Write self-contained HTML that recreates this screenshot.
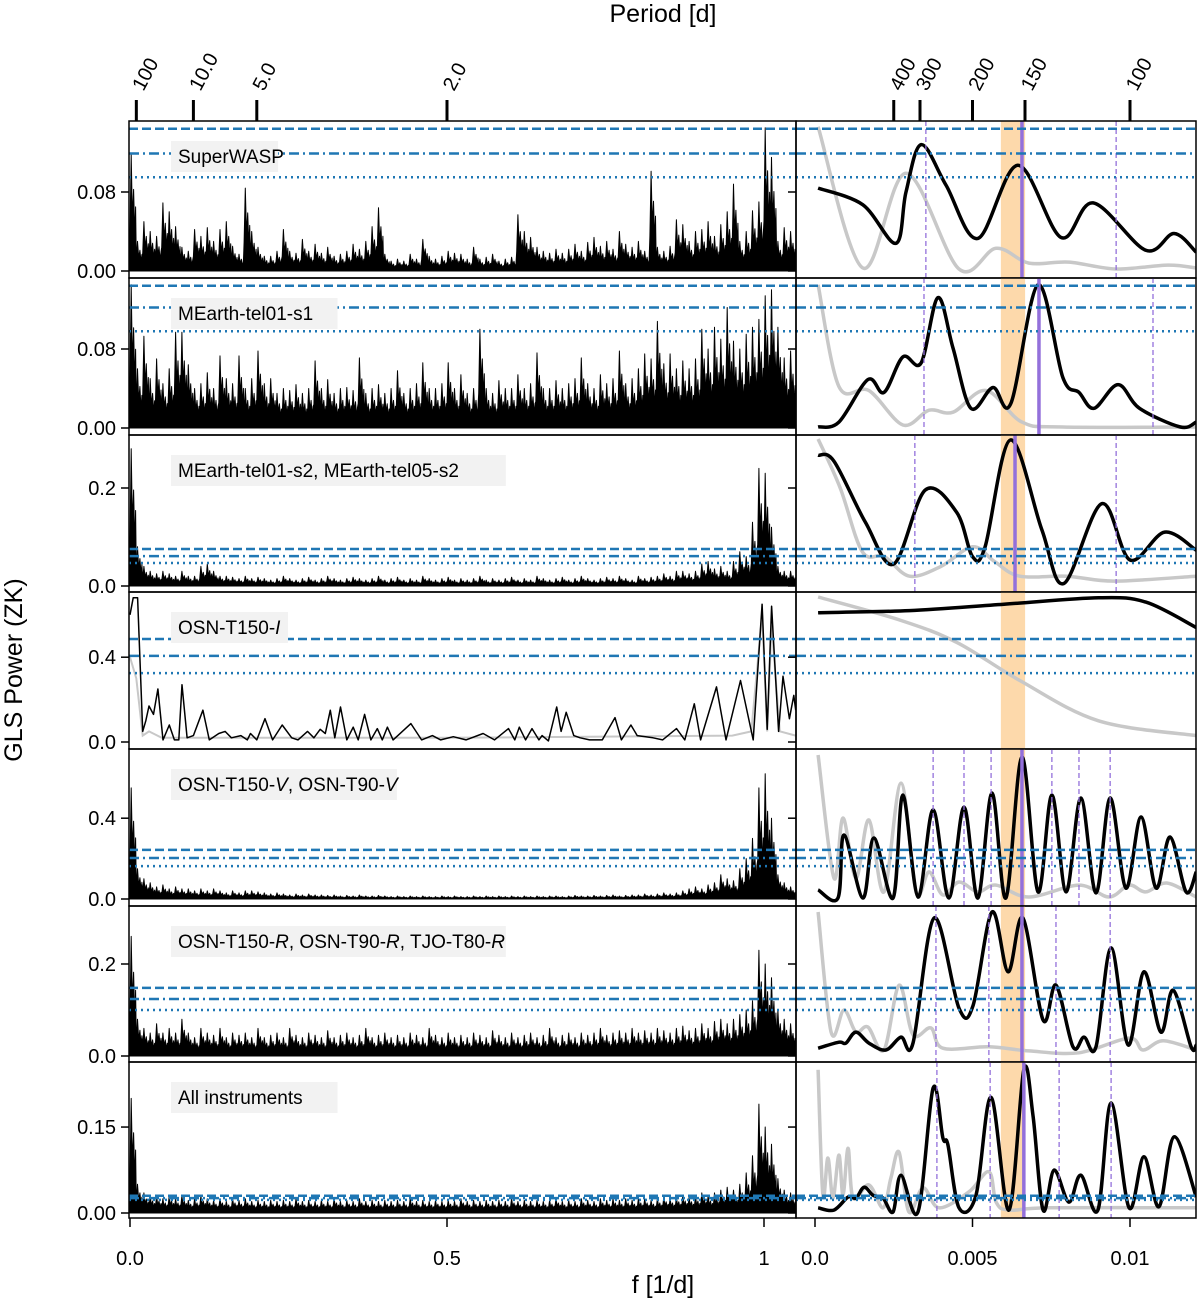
<!DOCTYPE html>
<html><head><meta charset="utf-8">
<style>
html,body{margin:0;padding:0;background:#fff;}
svg text{font-family:"Liberation Sans","DejaVu Sans",sans-serif;fill:#000;}
</style></head>
<body>
<svg id="chart" width="1200" height="1300" viewBox="0 0 1200 1300" xmlns="http://www.w3.org/2000/svg">
<text x="663" y="22" font-size="25" text-anchor="middle">Period [d]</text>
<text x="663" y="1293" font-size="25" text-anchor="middle">f [1/d]</text>
<text x="22" y="670" font-size="25" text-anchor="middle" transform="rotate(-90 22 670)">GLS Power (ZK)</text>
</svg>
<script>
// ---------- data ----------
const panelNames = ["SuperWASP","MEarth-tel01-s1","MEarth-tel01-s2, MEarth-tel05-s2","OSN-T150-I","OSN-T150-V, OSN-T90-V","OSN-T150-R, OSN-T90-R, TJO-T80-R","All instruments"];
const yTickVals = [[0,0.08],[0,0.08],[0,0.2],[0,0.4],[0,0.4],[0,0.2],[0,0.15]];
const yTickLabels = [["0.00","0.08"],["0.00","0.08"],["0.0","0.2"],["0.0","0.4"],["0.0","0.4"],["0.0","0.2"],["0.00","0.15"]];
const fapLevels = [[0.144,0.119,0.095],[0.144,0.122,0.098],[0.0755,0.061,0.047],[0.486,0.406,0.325],[0.243,0.203,0.163],[0.148,0.124,0.10],[0.030,0.026,0.023]];
const leftTickVals = [0,0.5,1];
const leftTickLabels = ["0.0","0.5","1"];
const rightTickVals = [0,5,10];
const rightTickLabels = ["0.0","0.005","0.01"];
const periodLeft = [100,10,5,2];
const periodLeftLabels = ["100","10.0","5.0","2.0"];
const periodRight = [400,300,200,150,100];
const periodRightLabels = ["400","300","200","150","100"];
const bandF = [5.9,6.67];
const solidLineF = [6.57,7.11,6.35,null,6.57,6.57,6.63];
const dashedLineF = [[3.52,9.56],[3.46,10.73],[3.17,9.56],[],[3.75,4.73,5.59,7.52,8.38,9.37],[3.84,5.52,7.65,9.37],[3.87,5.56,7.75,9.4]];

const left0 = [0.118,0.03,0.05,0.04,0.035,0.069,0.06,0.045,0.024,0.02,0.042,0.035,0.044,0.03,0.042,0.05,0.025,0.017,0.084,0.04,0.024,0.015,0.015,0.02,0.042,0.02,0.018,0.032,0.02,0.027,0.018,0.024,0.015,0.017,0.02,0.027,0.022,0.03,0.045,0.064,0.017,0.01,0.012,0.01,0.017,0.012,0.032,0.015,0.012,0.015,0.02,0.018,0.017,0.012,0.024,0.012,0.014,0.017,0.01,0.012,0.014,0.057,0.04,0.034,0.024,0.02,0.018,0.022,0.018,0.022,0.027,0.02,0.029,0.034,0.025,0.03,0.022,0.04,0.027,0.024,0.03,0.02,0.101,0.024,0.02,0.025,0.052,0.047,0.03,0.04,0.042,0.05,0.035,0.047,0.06,0.088,0.03,0.04,0.061,0.07,0.145,0.115,0.03,0.044,0.04,0.03];
const left1 = [0.145,0.06,0.093,0.05,0.07,0.045,0.06,0.097,0.097,0.064,0.04,0.045,0.056,0.04,0.073,0.05,0.045,0.073,0.04,0.05,0.078,0.045,0.05,0.035,0.04,0.038,0.044,0.035,0.04,0.068,0.04,0.049,0.035,0.04,0.041,0.038,0.071,0.035,0.04,0.044,0.035,0.04,0.058,0.035,0.04,0.045,0.066,0.04,0.04,0.045,0.066,0.04,0.054,0.035,0.04,0.1,0.04,0.035,0.048,0.04,0.04,0.054,0.04,0.045,0.076,0.04,0.04,0.048,0.04,0.045,0.05,0.071,0.045,0.04,0.054,0.045,0.05,0.078,0.045,0.05,0.06,0.075,0.07,0.108,0.065,0.075,0.06,0.068,0.06,0.07,0.1,0.08,0.102,0.09,0.122,0.088,0.08,0.095,0.102,0.11,0.134,0.14,0.102,0.071,0.078,0.06];
const left2 = [0.28,0.08,0.04,0.03,0.025,0.03,0.025,0.02,0.03,0.02,0.02,0.04,0.045,0.03,0.02,0.02,0.018,0.015,0.02,0.015,0.018,0.015,0.012,0.015,0.02,0.015,0.012,0.015,0.018,0.012,0.015,0.02,0.015,0.012,0.015,0.018,0.015,0.012,0.015,0.02,0.012,0.015,0.018,0.012,0.015,0.012,0.02,0.015,0.012,0.015,0.018,0.012,0.015,0.012,0.015,0.02,0.012,0.015,0.012,0.015,0.018,0.012,0.015,0.012,0.02,0.015,0.012,0.015,0.018,0.012,0.015,0.02,0.015,0.012,0.015,0.018,0.015,0.02,0.015,0.012,0.02,0.015,0.018,0.02,0.025,0.02,0.03,0.03,0.025,0.03,0.045,0.05,0.035,0.04,0.03,0.05,0.07,0.06,0.13,0.24,0.23,0.12,0.04,0.03,0.03,0.02];
const left4 = [0.55,0.15,0.1,0.08,0.06,0.07,0.05,0.06,0.05,0.05,0.04,0.05,0.04,0.05,0.04,0.03,0.04,0.03,0.04,0.04,0.035,0.03,0.025,0.03,0.025,0.02,0.025,0.02,0.025,0.02,0.02,0.018,0.02,0.015,0.018,0.015,0.02,0.015,0.015,0.018,0.015,0.012,0.015,0.012,0.015,0.012,0.015,0.012,0.012,0.015,0.012,0.015,0.012,0.012,0.015,0.012,0.015,0.012,0.015,0.012,0.015,0.012,0.015,0.012,0.015,0.012,0.015,0.015,0.012,0.015,0.018,0.015,0.015,0.018,0.015,0.018,0.02,0.015,0.018,0.02,0.02,0.025,0.02,0.025,0.03,0.025,0.03,0.04,0.05,0.06,0.05,0.07,0.08,0.12,0.1,0.09,0.15,0.2,0.3,0.55,0.62,0.4,0.12,0.08,0.06,0.05];
const left5 = [0.26,0.08,0.06,0.05,0.07,0.05,0.06,0.05,0.08,0.05,0.04,0.06,0.05,0.045,0.06,0.04,0.05,0.045,0.05,0.04,0.06,0.04,0.045,0.05,0.04,0.06,0.045,0.04,0.05,0.045,0.04,0.055,0.04,0.045,0.05,0.04,0.045,0.06,0.04,0.045,0.05,0.04,0.045,0.04,0.05,0.045,0.04,0.06,0.045,0.04,0.05,0.04,0.045,0.04,0.05,0.045,0.04,0.055,0.045,0.04,0.05,0.04,0.045,0.05,0.04,0.045,0.06,0.04,0.045,0.05,0.04,0.05,0.045,0.05,0.06,0.045,0.05,0.055,0.05,0.06,0.05,0.055,0.05,0.06,0.055,0.05,0.06,0.065,0.055,0.06,0.07,0.06,0.075,0.08,0.07,0.08,0.09,0.1,0.12,0.23,0.2,0.17,0.1,0.08,0.07,0.06];
const left6 = [0.2,0.05,0.035,0.03,0.03,0.025,0.03,0.025,0.03,0.022,0.025,0.03,0.025,0.022,0.025,0.02,0.025,0.022,0.025,0.02,0.022,0.02,0.022,0.02,0.022,0.02,0.025,0.02,0.022,0.02,0.022,0.02,0.025,0.02,0.022,0.02,0.025,0.02,0.022,0.02,0.022,0.02,0.022,0.02,0.025,0.02,0.022,0.02,0.022,0.02,0.022,0.02,0.025,0.02,0.022,0.02,0.022,0.02,0.022,0.02,0.025,0.02,0.022,0.02,0.022,0.02,0.022,0.025,0.02,0.022,0.02,0.025,0.022,0.02,0.025,0.022,0.025,0.022,0.025,0.022,0.025,0.025,0.022,0.025,0.028,0.025,0.028,0.03,0.028,0.03,0.035,0.03,0.035,0.04,0.045,0.04,0.05,0.07,0.1,0.19,0.15,0.12,0.06,0.04,0.035,0.03];
const osnIF = [0.000,0.005,0.012,0.02,0.025,0.03,0.037,0.044,0.052,0.062,0.07,0.077,0.082,0.09,0.1,0.115,0.125,0.14,0.15,0.16,0.175,0.185,0.19,0.2,0.213,0.225,0.24,0.255,0.265,0.28,0.29,0.3,0.308,0.316,0.323,0.332,0.342,0.352,0.36,0.37,0.38,0.39,0.398,0.406,0.415,0.443,0.46,0.477,0.49,0.51,0.53,0.557,0.575,0.597,0.607,0.614,0.624,0.634,0.645,0.65,0.66,0.673,0.68,0.688,0.7,0.71,0.725,0.745,0.765,0.775,0.79,0.8,0.825,0.84,0.862,0.875,0.89,0.9,0.925,0.94,0.963,0.983,0.997,1.005,1.012,1.023,1.03,1.04,1.047,1.05];
const osnIP = [0.60,0.68,0.68,0.05,0.1,0.17,0.13,0.25,0.01,0.08,0.01,0.01,0.27,0.02,0.03,0.15,0.01,0.04,0.05,0.02,0.03,0.01,0.04,0.01,0.11,0.01,0.08,0.02,0.01,0.05,0.02,0.06,0.04,0.15,0.02,0.165,0.01,0.07,0.01,0.13,0.01,0.063,0.01,0.07,0.01,0.087,0.01,0.03,0.01,0.025,0.01,0.04,0.01,0.063,0.01,0.07,0.01,0.063,0.01,0.03,0.005,0.165,0.05,0.14,0.03,0.02,0.01,0.01,0.115,0.01,0.08,0.03,0.02,0.01,0.063,0.01,0.18,0.01,0.26,0.01,0.29,0.01,0.65,0.06,0.64,0.05,0.31,0.11,0.22,0.15];
const osnIGrayF = [0,0.01,0.02,0.03,0.05,0.5,0.95,0.98,0.997,1.005,1.012,1.025,1.05];
const osnIGrayP = [0.4,0.3,0.03,0.05,0.02,0.02,0.03,0.05,0.6,0.05,0.55,0.05,0.03];

const r0bF=[0.1,1.52,2.57,2.89,3.37,4.16,5.17,6.44,7.81,8.83,10.5,11.4,12.1];
const r0bP=[0.084,0.067,0.028,0.08,0.128,0.087,0.033,0.107,0.034,0.069,0.021,0.038,0.019];
const r0gF=[0.1,1.52,2.89,4.57,5.75,6.79,8.06,9.56,11.2,12.1];
const r0gP=[0.146,0.003,0.099,0.002,0.023,0.008,0.009,0.002,0.006,0.003];
const r1bF=[0.1,0.76,1.68,2.19,2.79,3.37,3.9,4.38,4.95,5.65,6.22,7.08,7.87,8.38,8.86,9.62,10.3,11.6,12.1];
const r1bP=[0.001,0.006,0.049,0.036,0.072,0.066,0.132,0.081,0.02,0.041,0.025,0.145,0.051,0.036,0.02,0.044,0.02,0.001,0.006];
const r1gF=[0.1,0.76,1.71,2.79,3.62,4.38,5.43,6.57,7.87,12.1];
const r1gP=[0.145,0.042,0.038,0.003,0.018,0.016,0.038,0.006,0.001,0.001];
const r2bF=[0.1,0.6,1.6,2.5,3.5,4.5,5.0,5.4,6.2,7.2,7.9,9.1,10.0,11.1,12.1];
const r2bP=[0.267,0.255,0.13,0.045,0.196,0.15,0.06,0.08,0.298,0.115,0.005,0.168,0.053,0.11,0.073];
const r2gF=[0.1,0.8,1.5,2.2,3.0,4.0,5.0,5.7,6.5,8,9.5,12.1];
const r2gP=[0.3,0.2,0.07,0.06,0.02,0.04,0.08,0.05,0.02,0.02,0.01,0.02];
const r3bF=[0.1,3,6,9,10.5,12.1];
const r3bP=[0.61,0.62,0.65,0.68,0.66,0.54];
const r3gF=[0.1,2.7,4.5,6.5,9,12.1];
const r3gP=[0.684,0.575,0.47,0.29,0.1,0.03];
const r4bF=[0.1,0.73,0.92,1.52,1.87,2.48,2.79,3.27,3.75,4.25,4.73,5.17,5.62,6.06,6.57,7.08,7.52,7.97,8.44,8.92,9.37,9.87,10.35,10.83,11.27,11.78,12.1];
const r4bP=[0.045,0.005,0.317,0.005,0.302,0.005,0.515,0.01,0.441,0.005,0.455,0.005,0.525,0.005,0.703,0.035,0.515,0.035,0.50,0.03,0.50,0.054,0.406,0.054,0.307,0.035,0.134];
const r4gF=[0.1,0.6,0.89,1.3,1.71,2.19,2.73,3.21,3.62,4.06,4.57,5.17,5.75,6.79,8.38,9.33,9.97,10.5,11.17,12.1];
const r4gP=[0.713,0.104,0.401,0.104,0.391,0.035,0.574,0.035,0.134,0.02,0.084,0.035,0.069,0.01,0.069,0.01,0.069,0.035,0.079,0.01];
const r5bF=[0.1,0.76,0.98,1.3,1.71,2.25,2.73,3.11,3.78,4.57,5.02,5.62,6.13,6.6,7.24,7.65,8.19,8.54,8.92,9.4,9.94,10.44,10.98,11.37,11.94,12.1];
const r5bP=[0.017,0.03,0.028,0.052,0.028,0.013,0.041,0.028,0.3,0.104,0.11,0.313,0.183,0.3,0.078,0.154,0.02,0.041,0.02,0.235,0.024,0.183,0.052,0.143,0.02,0.024];
const r5gF=[0.1,0.51,0.92,1.3,1.68,2.19,2.67,3.11,3.68,4.06,5.52,6.79,8.38,9.97,10.41,11.05,12.1];
const r5gP=[0.313,0.052,0.1,0.052,0.063,0.013,0.154,0.046,0.061,0.017,0.02,0.011,0.007,0.039,0.013,0.033,0.013];
const r6bF=[0.1,0.6,1.05,1.3,1.56,1.84,2.16,2.48,2.73,3.27,3.75,4.06,4.22,4.57,5.11,5.59,6.16,6.63,6.92,7.24,7.59,8.06,8.44,8.98,9.4,9.97,10.44,10.92,11.4,12.1];
const r6bP=[0.009,0.005,0.028,0.026,0.045,0.031,0.026,0.002,0.066,0.002,0.218,0.131,0.119,0.009,0.031,0.202,0.005,0.25,0.17,0.005,0.075,0.019,0.066,0.005,0.192,0.009,0.098,0.011,0.133,0.028];
const r6gF=[0.1,0.25,0.41,0.57,0.76,0.89,1.05,1.21,1.71,2.16,2.41,2.67,2.98,3.43,3.94,4.89,5.52,5.75,6.16,7.43,12.1];
const r6gP=[0.25,0.031,0.096,0.026,0.101,0.031,0.113,0.026,0.049,0.009,0.061,0.106,0.002,0.044,0.009,0.037,0.072,0.019,0.005,0.009,0.009];

const leftNoisy = [left0,left1,left2,null,left4,left5,left6];
const rightBlackF=[r0bF,r1bF,r2bF,r3bF,r4bF,r5bF,r6bF];
const rightBlackP=[r0bP,r1bP,r2bP,r3bP,r4bP,r5bP,r6bP];
const rightGrayF=[r0gF,r1gF,r2gF,r3gF,r4gF,r5gF,r6gF];
const rightGrayP=[r0gP,r1gP,r2gP,r3gP,r4gP,r5gP,r6gP];

// ---------- layout ----------
const NS="http://www.w3.org/2000/svg";
const svg=document.getElementById('chart');
const LX0=129, LX1=796, RX0=796, RX1=1196;
const panelTop=[121,278,435,592,749,906,1062];
const panelBot=[278,435,592,749,906,1062,1218];
const zeroY=[271,428,586,742,899,1056,1213];
const pxPerUnit=[987.5,987.5,490,212,202,460,573];
const xL=f=>130+634*f;
const xR=f=>815+31.5*f;
const yOf=(r,v)=>zeroY[r]-pxPerUnit[r]*v;
function mk(tag,attrs,parent){const e=document.createElementNS(NS,tag);for(const k in attrs)e.setAttribute(k,attrs[k]);(parent||svg).appendChild(e);return e;}
function spline(pts){
  if(pts.length<2)return '';
  let d='M'+pts[0][0].toFixed(1)+','+pts[0][1].toFixed(1);
  for(let i=0;i<pts.length-1;i++){
    const p0=pts[Math.max(0,i-1)],p1=pts[i],p2=pts[i+1],p3=pts[Math.min(pts.length-1,i+2)];
    const c1=[p1[0]+(p2[0]-p0[0])/6,p1[1]+(p2[1]-p0[1])/6];
    const c2=[p2[0]-(p3[0]-p1[0])/6,p2[1]-(p3[1]-p1[1])/6];
    d+='C'+c1[0].toFixed(1)+','+c1[1].toFixed(1)+' '+c2[0].toFixed(1)+','+c2[1].toFixed(1)+' '+p2[0].toFixed(1)+','+p2[1].toFixed(1);
  }
  return d;
}
const defs=mk('defs',{});
const fapDash=["9,4","10,4,2,4","2,4"];

for(let r=0;r<7;r++){
  const t=panelTop[r], b=panelBot[r];
  const cl=mk('clipPath',{id:'cl'+r},defs); mk('rect',{x:LX0,y:t,width:LX1-LX0,height:b-t},cl);
  const cr=mk('clipPath',{id:'cr'+r},defs); mk('rect',{x:RX0,y:t,width:RX1-RX0,height:b-t},cr);
  const gL=mk('g',{'clip-path':'url(#cl'+r+')'});
  
  
  const gR=mk('g',{'clip-path':'url(#cr'+r+')'});
  
  

  const band=mk('rect',{x:xR(bandF[0]),y:t,width:xR(bandF[1])-xR(bandF[0]),height:b-t,fill:'#fdd9ab'},gR);
  
  

  if(r===3){
    const gp=osnIGrayF.map((f,i)=>[xL(f),yOf(r,osnIGrayP[i])]);
    const g1=mk('path',{d:'M'+gp.map(p=>p[0].toFixed(1)+','+p[1].toFixed(1)).join('L'),fill:'none',stroke:'#c8c8c8','stroke-width':2},gL);
    
    
    const pts=osnIF.map((f,i)=>[xL(f),yOf(r,osnIP[i])]);
    const l=mk('path',{d:'M'+pts.map(p=>p[0].toFixed(1)+','+p[1].toFixed(1)).join('L'),fill:'none',stroke:'#000','stroke-width':1.5,'stroke-linejoin':'round'},gL);
    
    
  } else {
    const arr=leftNoisy[r];
    let d='M'+xL(0).toFixed(1)+','+zeroY[r];
    arr.forEach((p,i)=>{
      const x0=xL(i*0.01);
      d+='L'+x0.toFixed(1)+','+yOf(r,0.35*p).toFixed(1);
      d+='L'+(x0+1.2).toFixed(1)+','+yOf(r,p).toFixed(1);
      d+='L'+(x0+2.4).toFixed(1)+','+yOf(r,0.45*p).toFixed(1);
      d+='L'+(x0+3.6).toFixed(1)+','+yOf(r,0.7*p).toFixed(1);
      d+='L'+(x0+4.8).toFixed(1)+','+yOf(r,0.3*p).toFixed(1);
      d+='L'+(x0+5.6).toFixed(1)+','+yOf(r,0.55*p).toFixed(1);
    });
    d+='L'+xL(arr.length*0.01).toFixed(1)+','+zeroY[r]+'Z';
    const l=mk('path',{d:d,fill:'#000',stroke:'#000','stroke-width':1,'stroke-linejoin':'round'},gL);
    
    
  }

  const gpts=rightGrayF[r].map((f,i)=>[xR(f),yOf(r,rightGrayP[r][i])]);
  const gl=mk('path',{d:spline(gpts),fill:'none',stroke:'#c8c8c8','stroke-width':3.5},gR);
  
  
  const bpts=rightBlackF[r].map((f,i)=>[xR(f),yOf(r,rightBlackP[r][i])]);
  const bl=mk('path',{d:spline(bpts),fill:'none',stroke:'#000','stroke-width':3.5},gR);
  
  

  dashedLineF[r].forEach(f=>{
    const l=mk('line',{x1:xR(f),x2:xR(f),y1:t,y2:b,stroke:'#9370db','stroke-width':1.3,'stroke-dasharray':'5,3'},gR);
    
    
  });
  if(solidLineF[r]!==null){
    const l=mk('line',{x1:xR(solidLineF[r]),x2:xR(solidLineF[r]),y1:t,y2:b,stroke:'#9370db','stroke-width':3.5},gR);
    
    
  }

  fapLevels[r].forEach((v,k)=>{
    [gL,gR].forEach(g=>{
      const x1=g===gL?LX0:RX0, x2=g===gL?LX1:RX1;
      const l=mk('line',{x1:x1,x2:x2,y1:yOf(r,v),y2:yOf(r,v),stroke:'#1f77b4','stroke-width':2.5,'stroke-dasharray':fapDash[k]},g);
      
      
    });
  });

  const fl=mk('rect',{x:LX0,y:t,width:LX1-LX0,height:b-t,fill:'none',stroke:'#000','stroke-width':1.5});
  
  
  const fr=mk('rect',{x:RX0,y:t,width:RX1-RX0,height:b-t,fill:'none',stroke:'#000','stroke-width':1.5});
  
  

  yTickVals[r].forEach((v,k)=>{
    const y=yOf(r,v);
    mk('line',{x1:LX0-8,x2:LX0,y1:y,y2:y,stroke:'#000','stroke-width':1.5});
    mk('line',{x1:RX0-8,x2:RX0,y1:y,y2:y,stroke:'#000','stroke-width':1.5});
    const tx=mk('text',{x:LX0-13,y:y+7,'font-size':20,'text-anchor':'end'});
    tx.textContent=yTickLabels[r][k];
    
    
  });

  const name=panelNames[r];
  const w=name.length*9.9+18;
  const bx=mk('rect',{x:171,y:t+20,width:w,height:31,fill:'#f2f2f2'});
  
  
  const tx=mk('text',{x:178,y:t+42,'font-size':19});
  const italic={3:'I',4:'V',5:'R'};
  if(italic[r]){
    const parts=name.split('-'+italic[r]);
    parts.forEach((p,i)=>{
      const s1=mk('tspan',{},tx); s1.textContent=p;
      if(i<parts.length-1){const s2=mk('tspan',{},tx); s2.textContent='-';const s3=mk('tspan',{'font-style':'italic'},tx); s3.textContent=italic[r];}
    });
  } else tx.textContent=name;
  
  
}

leftTickVals.forEach((v,k)=>{
  const x=xL(v);
  mk('line',{x1:x,x2:x,y1:1218,y2:1227,stroke:'#000','stroke-width':1.5});
  const t=mk('text',{x:x,y:1265,'font-size':20,'text-anchor':'middle'});t.textContent=leftTickLabels[k];
  
  
});
rightTickVals.forEach((v,k)=>{
  const x=xR(v);
  mk('line',{x1:x,x2:x,y1:1218,y2:1227,stroke:'#000','stroke-width':1.5});
  const t=mk('text',{x:x,y:1265,'font-size':20,'text-anchor':'middle'});t.textContent=rightTickLabels[k];
  
  
});
function topTick(x,label){
  mk('line',{x1:x,x2:x,y1:100,y2:121,stroke:'#000','stroke-width':3});
  const t=mk('text',{x:x+7,y:92,'font-size':20,transform:'rotate(-62 '+(x+7)+' 92)'});
  t.textContent=label;
  
  
}
periodLeft.forEach((p,k)=>topTick(xL(1/p),periodLeftLabels[k]));
periodRight.forEach((p,k)=>topTick(xR(1000/p),periodRightLabels[k]));
</script>
</body></html>
